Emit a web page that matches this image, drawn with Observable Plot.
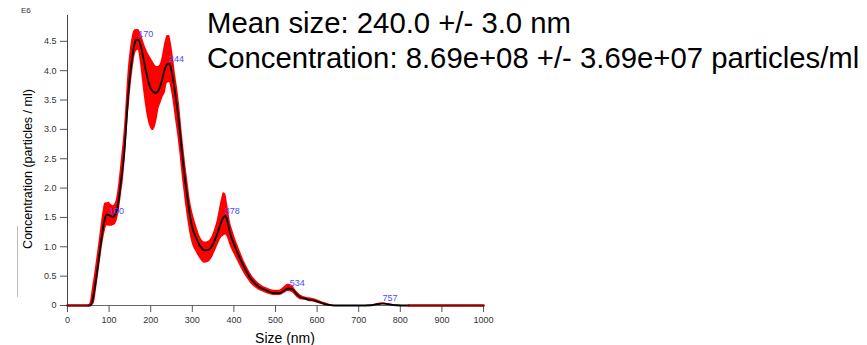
<!DOCTYPE html>
<html>
<head>
<meta charset="utf-8">
<script src="https://cdn.jsdelivr.net/npm/d3@7"></script>
<script src="https://cdn.jsdelivr.net/npm/@observablehq/plot@0.6"></script>
<style>
  html, body { margin: 0; padding: 0; background: #fff; }
  #wrap { position: relative; width: 867px; height: 345px; font-family: "Liberation Sans", Arial, sans-serif; overflow: hidden; }
  #chart { position: absolute; left: 0; top: 0; }
  .title { position: absolute; left: 207px; font-size: 29.3px; color: #000; white-space: nowrap; line-height: 1; }
  #e6 { position: absolute; left: 21px; top: 6px; font-size: 8px; color: #333; }
  #ylab { position: absolute; left: 28px; top: 169px; font-size: 12.5px; color: #000; white-space: nowrap; transform: translate(-50%, -50%) rotate(-90deg); }
  #xlab { position: absolute; left: 285px; top: 338px; font-size: 14px; color: #000; white-space: nowrap; transform: translate(-50%, -50%); }
  #mark { position: absolute; left: 17px; top: 226px; width: 0; height: 71px; border-left: 1px solid #bbb; }
</style>
</head>
<body>
<div id="wrap">
  <div id="chart"></div>
  <div class="title" style="top:8px">Mean size: 240.0 +/- 3.0 nm</div>
  <div class="title" style="top:43px">Concentration: 8.69e+08 +/- 3.69e+07 particles/ml</div>
  <div id="e6">E6</div>
  <div id="ylab">Concentration (particles / ml)</div>
  <div id="xlab">Size (nm)</div>
  <div id="mark"></div>
</div>
<script>
// Size (nm)
const sizes = [
  0, 50, 55, 60, 65, 70, 75, 80, 85, 90,
  95, 100, 105, 110, 115, 120, 125, 130, 135, 140,
  145, 150, 155, 160, 165, 170, 175, 180, 185, 190,
  195, 200, 205, 210, 215, 220, 225, 230, 235, 240,
  245, 250, 255, 260, 265, 270, 275, 280, 285, 290,
  295, 300, 310, 320, 330, 340, 350, 360, 370, 375,
  380, 385, 390, 400, 410, 420, 430, 440, 450, 460,
  470, 480, 490, 500, 510, 520, 530, 540, 550, 560,
  570, 580, 590, 600, 610, 620, 630, 640, 650, 700,
  730, 745, 757, 770, 790, 820, 1000
];
// Mean concentration (E6 particles / ml)
const meanConc = [
  0, 0, 0, 0.08, 0.28, 0.52, 0.78, 1.05, 1.30, 1.48,
  1.55, 1.54, 1.52, 1.51, 1.55, 1.66, 1.90, 2.20, 2.50, 2.95,
  3.50, 3.90, 4.20, 4.42, 4.52, 4.53, 4.45, 4.30, 4.12, 3.95,
  3.80, 3.70, 3.65, 3.62, 3.63, 3.68, 3.78, 3.92, 4.05, 4.11,
  4.12, 4.00, 3.80, 3.55, 3.30, 2.98, 2.62, 2.30, 2.00, 1.75,
  1.50, 1.33, 1.14, 1.00, 0.94, 0.95, 1.05, 1.22, 1.43, 1.50,
  1.52, 1.42, 1.25, 1.05, 0.88, 0.72, 0.58, 0.46, 0.38, 0.32,
  0.28, 0.25, 0.22, 0.21, 0.21, 0.25, 0.29, 0.28, 0.20, 0.14,
  0.12, 0.10, 0.09, 0.07, 0.045, 0.02, 0.008, 0, 0, 0,
  0.004, 0.022, 0.032, 0.022, 0.004, 0, 0
];
// Lower edge of error band
const lowerConc = [
  0, 0, 0, 0, 0.05, 0.28, 0.54, 0.80, 1.05, 1.24,
  1.36, 1.35, 1.35, 1.36, 1.38, 1.46, 1.64, 1.90, 2.18, 2.60,
  3.12, 3.52, 3.88, 4.15, 4.32, 4.35, 4.15, 3.85, 3.55, 3.30,
  3.12, 3.02, 2.98, 3.02, 3.15, 3.35, 3.45, 3.55, 3.62, 3.78,
  3.80, 3.65, 3.42, 3.15, 2.90, 2.60, 2.25, 1.95, 1.66, 1.42,
  1.20, 1.05, 0.90, 0.78, 0.72, 0.74, 0.84, 1.00, 1.15, 1.18,
  1.20, 1.15, 1.04, 0.88, 0.74, 0.60, 0.48, 0.38, 0.31, 0.26,
  0.23, 0.20, 0.18, 0.17, 0.17, 0.20, 0.24, 0.22, 0.15, 0.10,
  0.09, 0.07, 0.06, 0.04, 0.02, 0, 0, 0, 0, 0,
  0, 0.012, 0.02, 0.012, 0, 0, 0
];
// Upper edge of error band
const upperConc = [
  0, 0, 0.06, 0.30, 0.52, 0.78, 1.04, 1.32, 1.58, 1.74,
  1.75, 1.76, 1.72, 1.70, 1.74, 1.90, 2.18, 2.52, 2.86, 3.34,
  3.92, 4.30, 4.55, 4.68, 4.70, 4.70, 4.66, 4.56, 4.45, 4.36,
  4.28, 4.22, 4.16, 4.10, 4.07, 4.08, 4.15, 4.32, 4.50, 4.60,
  4.60, 4.45, 4.20, 3.92, 3.68, 3.38, 3.00, 2.66, 2.35, 2.08,
  1.80, 1.62, 1.36, 1.16, 1.08, 1.10, 1.22, 1.45, 1.80, 1.92,
  1.90, 1.72, 1.48, 1.22, 1.02, 0.84, 0.68, 0.55, 0.45, 0.38,
  0.33, 0.30, 0.27, 0.26, 0.26, 0.31, 0.36, 0.34, 0.25, 0.18,
  0.15, 0.13, 0.12, 0.10, 0.07, 0.045, 0.02, 0.005, 0, 0,
  0.01, 0.034, 0.045, 0.034, 0.01, 0, 0
];
// Peak labels
const peakSizes = [100, 170, 244, 378, 534, 757];
const peakConc = [1.53, 4.53, 4.12, 1.52, 0.30, 0.035];

const yTicks = [0, 0.5, 1, 1.5, 2, 2.5, 3, 3.5, 4, 4.5];
const xTicks = [0, 100, 200, 300, 400, 500, 600, 700, 800, 900, 1000];

const rows = sizes.map((s, i) => ({size: s, mean: meanConc[i], lo: lowerConc[i], hi: upperConc[i]}));
const mid = rows.filter(d => d.size >= 50 && d.size <= 820);
const base = rows.filter(d => d.size <= 50 || d.size >= 820).map(d => ({...d, seg: d.size <= 50 ? "L" : "R"}));
const peaks = peakSizes.map((s, i) => ({size: s, conc: peakConc[i], label: String(s)}));

const chart = Plot.plot({
  width: 867,
  height: 345,
  marginLeft: 67,
  marginRight: 384,
  marginTop: 15,
  marginBottom: 40,
  style: {fontFamily: "'Liberation Sans', Arial, sans-serif", fontSize: "9px", color: "#333", background: "transparent"},
  x: {domain: [0, 1000]},
  y: {domain: [0, 4.94]},
  marks: [
    Plot.ruleY([0], {stroke: "#666", strokeWidth: 1}),
    Plot.ruleX([0], {stroke: "#444", strokeWidth: 1}),
    Plot.axisY({ticks: yTicks, tickSize: 7, tickPadding: 4, tickFormat: d => d === 0 ? "0" : d.toFixed(1), label: null, stroke: "#555"}),
    Plot.axisX({ticks: xTicks, tickSize: 7, tickPadding: 4, tickFormat: d => String(d), label: null, stroke: "#555"}),
    Plot.areaY(mid, {x: "size", y1: "lo", y2: "hi", fill: "#ff0000", curve: "monotone-x"}),
    Plot.line(mid, {x: "size", y: "mean", stroke: "#000", strokeWidth: 1.8, curve: "monotone-x"}),
    Plot.line(base, {x: "size", y: "mean", z: "seg", stroke: "#8b0000", strokeWidth: 2.5}),
    Plot.text(peaks, {x: "size", y: "conc", text: "label", fill: "#4a4aff", fontSize: 9, textAnchor: "start", dy: -5})
  ]
});
document.getElementById("chart").appendChild(chart);
</script>
</body>
</html>
